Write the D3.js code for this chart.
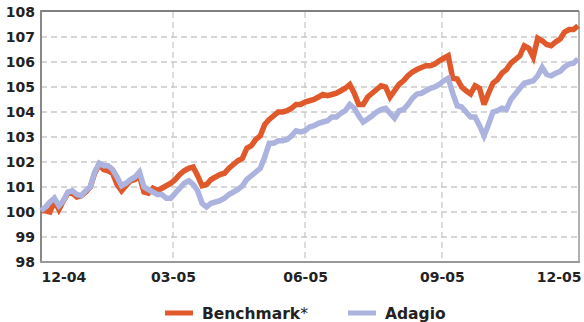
<!DOCTYPE html>
<html>
<head>
<meta charset="utf-8">
<script src="https://cdn.jsdelivr.net/npm/d3@7/dist/d3.min.js"></script>
<style>
  html, body { margin: 0; padding: 0; background: #fff; }
  svg { display: block; }
</style>
</head>
<body>
<svg id="chart" width="584" height="322"></svg>
<script>
// Indexed performance, Dec 2004 to Dec 2005 (index points, start = 100)
const benchmark = [
  100.05, 100.05, 100.0, 100.45, 100.1, 100.45, 100.75, 100.75, 100.6, 100.65,
  100.8, 101.0, 101.55, 101.9, 101.7, 101.65, 101.55, 101.1, 100.85, 101.05,
  101.25, 101.3, 101.45, 100.8, 100.75, 100.95, 100.85, 100.95, 101.05, 101.15,
  101.3, 101.5, 101.65, 101.75, 101.8, 101.45, 101.05, 101.1, 101.3, 101.4,
  101.5, 101.55, 101.75, 101.9, 102.05, 102.15, 102.55, 102.65, 102.9, 103.05,
  103.5, 103.7, 103.85, 104.0, 104.0, 104.05, 104.15, 104.3, 104.3, 104.4,
  104.45, 104.5, 104.6, 104.7, 104.65, 104.7, 104.75, 104.85, 104.95, 105.1,
  104.75, 104.3, 104.3, 104.6, 104.75, 104.9, 105.05, 105.0, 104.6, 104.85,
  105.1, 105.25, 105.45, 105.6, 105.7, 105.78, 105.85, 105.85, 105.92, 106.05,
  106.15, 106.25, 105.35, 105.32, 105.0, 104.85, 104.72, 105.05, 104.95, 104.3,
  104.75, 105.15, 105.3, 105.55, 105.7, 105.95, 106.1, 106.25, 106.65, 106.55,
  106.2, 106.95, 106.85, 106.7, 106.65, 106.8, 106.92, 107.2, 107.3, 107.3,
  107.45
];
const adagio = [
  100.05, 100.2, 100.4, 100.55, 100.25, 100.45, 100.8, 100.85, 100.7, 100.65,
  100.85, 101.0, 101.6, 101.95, 101.85, 101.85, 101.7, 101.4, 101.05, 101.15,
  101.3, 101.4, 101.6, 101.0, 100.9, 100.8, 100.7, 100.7, 100.55, 100.55,
  100.75, 100.95, 101.15, 101.25, 101.1, 100.85, 100.35, 100.2, 100.35, 100.4,
  100.45, 100.55, 100.7, 100.8, 100.9, 101.05, 101.3, 101.45, 101.6, 101.75,
  102.2, 102.75, 102.75, 102.85, 102.85, 102.9, 103.05, 103.25, 103.2, 103.25,
  103.4, 103.45, 103.55, 103.6, 103.65, 103.8, 103.8, 103.95, 104.05, 104.3,
  104.15, 103.85, 103.6, 103.72, 103.85, 104.0, 104.1, 104.15, 103.95, 103.75,
  104.05, 104.1, 104.3, 104.55, 104.72, 104.75, 104.85, 104.95, 105.0, 105.1,
  105.25, 105.35, 104.75, 104.25, 104.2, 104.0, 103.8, 103.8, 103.45, 103.05,
  103.5, 104.0, 104.05, 104.15, 104.1, 104.5, 104.72, 104.95, 105.15, 105.2,
  105.25, 105.45, 105.78, 105.5, 105.45, 105.55, 105.62, 105.8, 105.92, 105.95,
  106.12
];

// Month labels and the observation index each one sits at
const xTickLabels = ["12-04", "03-05", "06-05", "09-05", "12-05"];
const xTickIndex = [0, 29.5, 59, 89.6, 120];
const yTicks = [98, 99, 100, 101, 102, 103, 104, 105, 106, 107, 108];

const seriesNames = ["Benchmark", "Adagio"];
const seriesColors = ["#e0592b", "#abb3de"];

const svg = d3.select("#chart");
const m = { left: 41, right: 578, top: 12, bottom: 262 };

const x = d3.scaleLinear().domain([0, benchmark.length - 1]).range([m.left, m.right]);
const y = d3.scaleLinear().domain([98, 108]).range([m.bottom, m.top]);

const fontFamily = "'DejaVu Sans', Verdana, sans-serif";

// Dashed grid
const grid = svg.append("g").attr("stroke", "#c9c9c9").attr("stroke-width", 1.3)
  .attr("stroke-dasharray", "6,4");
grid.selectAll("line.h").data(yTicks.filter(v => v > 98 && v < 108)).enter()
  .append("line").attr("class", "h")
  .attr("x1", m.left).attr("x2", m.right)
  .attr("y1", d => y(d)).attr("y2", d => y(d));
grid.selectAll("line.v").data(xTickIndex.slice(1, -1)).enter()
  .append("line").attr("class", "v")
  .attr("y1", m.top).attr("y2", m.bottom)
  .attr("x1", d => x(d)).attr("x2", d => x(d));

// Frame
svg.append("line").attr("x1", m.left).attr("x2", m.right + 1).attr("y1", m.top - 1).attr("y2", m.top - 1)
  .attr("stroke", "#555").attr("stroke-width", 1.5);
svg.append("line").attr("x1", m.right + 1).attr("x2", m.right + 1).attr("y1", m.top - 1).attr("y2", m.bottom)
  .attr("stroke", "#999").attr("stroke-width", 1.5);

// Y axis
const yAxis = svg.append("g").attr("transform", `translate(${m.left},0)`)
  .call(d3.axisLeft(y).tickValues(yTicks).tickSize(0).tickPadding(6).tickFormat(d3.format("d")));
yAxis.select(".domain").attr("stroke", "#888").attr("stroke-width", 2)
  .attr("d", `M0,${m.top - 2}V${m.bottom + 1}`);
yAxis.selectAll("text").attr("font-family", fontFamily).attr("font-size", 14)
  .attr("font-weight", "bold").attr("fill", "#222");

// X axis
const xAxis = svg.append("g").attr("transform", `translate(0,${m.bottom})`)
  .call(d3.axisBottom(x).tickValues(xTickIndex).tickSize(0).tickPadding(10)
    .tickFormat((d, i) => xTickLabels[i]));
xAxis.select(".domain").attr("stroke", "#999").attr("stroke-width", 2)
  .attr("d", `M${m.left - 1},0H${m.right + 2}`);
xAxis.selectAll("text").attr("font-family", fontFamily).attr("font-size", 14)
  .attr("font-weight", "bold").attr("fill", "#222")
  .attr("text-anchor", (d, i) => i === 0 ? "start" : (i === xTickLabels.length - 1 ? "end" : "middle"))
  .attr("dx", (d, i) => i === xTickLabels.length - 1 ? 3 : 0);

// Series lines
const line = d3.line().x((d, i) => x(i)).y(d => y(d)).curve(d3.curveLinear);
[benchmark, adagio].forEach((vals, k) => {
  svg.append("path").datum(vals)
    .attr("fill", "none")
    .attr("stroke", seriesColors[k])
    .attr("stroke-width", 5.5)
    .attr("stroke-linejoin", "miter")
    .attr("stroke-miterlimit", 3)
    .attr("d", line);
});

// Legend
const legend = svg.append("g").attr("font-family", fontFamily).attr("font-size", 15.5)
  .attr("font-weight", "bold").attr("fill", "#222");
const legendX = [165, 348];
seriesNames.forEach((name, k) => {
  const g = legend.append("g").attr("transform", `translate(${legendX[k]},313)`);
  g.append("line").attr("x1", 0).attr("x2", 28).attr("y1", 0).attr("y2", 0)
    .attr("stroke", seriesColors[k]).attr("stroke-width", 5);
  const t = g.append("text").attr("x", 37).attr("y", 5.5).text(name);
  if (k === 0) t.append("tspan").attr("font-weight", "normal").text("*");
});
</script>
</body>
</html>
